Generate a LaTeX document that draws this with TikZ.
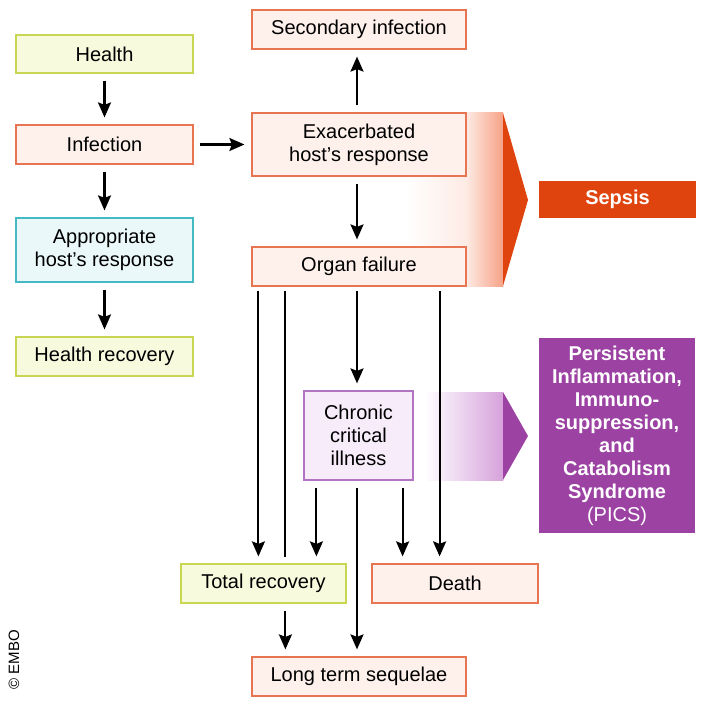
\documentclass[tikz,border=0pt]{standalone}
\usepackage{fontspec}
\setmainfont{Liberation Sans}
\usepackage{tikz}
\usetikzlibrary{arrows.meta}

\definecolor{orgline}{HTML}{E87552}
\definecolor{orgfill}{HTML}{FEF1EC}
\definecolor{grnline}{HTML}{C9D653}
\definecolor{grnfill}{HTML}{F8FADD}
\definecolor{tealline}{HTML}{45B9C4}
\definecolor{tealfill}{HTML}{EBF8F9}
\definecolor{purline}{HTML}{B273C0}
\definecolor{purfill}{HTML}{F7ECF9}
\definecolor{sepsisred}{HTML}{E0440E}
\definecolor{sepsisband}{HTML}{F6A286}
\definecolor{picspurple}{HTML}{9B42A2}
\definecolor{picsband}{HTML}{D6A2DC}

\tikzset{
  box/.style={rectangle,inner sep=0pt,align=center,line width=1.2pt,
    font=\fontsize{20}{23}\selectfont},
  redbox/.style={box,draw=orgline,fill=orgfill},
  greenbox/.style={box,draw=grnline,fill=grnfill},
  tealbox/.style={box,draw=tealline,fill=tealfill},
  purplebox/.style={box,draw=purline,fill=purfill},
  arr/.style={line width=2.1pt,-{Stealth[length=15pt,width=13pt,inset=2.5pt]},
    shorten <=7pt,shorten >=7pt},
  plain/.style={line width=2.1pt,shorten <=4pt,shorten >=6pt}
}

\begin{document}
\begin{tikzpicture}[x=1pt,y=-1pt]
\useasboundingbox (0,0) rectangle (709,706);

% bands behind the boxes
\shade[left color=white,right color=sepsisband!22] (405,113) rectangle (466,286);
\shade[left color=sepsisband!22,right color=sepsisband] (466,113) rectangle (503,286);
\fill[sepsisred] (503,113) -- (528,200) -- (503,286) -- cycle;
\shade[left color=white,right color=picsband] (425,392) rectangle (503,480);
\fill[picspurple] (503,392) -- (528,436) -- (503,480) -- cycle;

% left column
\node[greenbox,minimum width=177pt,minimum height=38pt] (health) at (104.5,54) {Health};
\node[redbox,minimum width=177pt,minimum height=39pt] (infect) at (104.5,144.5) {Infection};
\node[tealbox,minimum width=177pt,minimum height=64pt] (approp) at (104.5,250) {Appropriate\\host’s response};
\node[greenbox,minimum width=177pt,minimum height=39pt] (hrecov) at (104.5,356.5) {Health recovery};

% middle column
\node[redbox,minimum width=214pt,minimum height=39pt] (second) at (359,29.5) {Secondary infection};
\node[redbox,minimum width=214pt,minimum height=63pt] (exacer) at (359,144.5) {Exacerbated\\host’s response};
\node[redbox,minimum width=214pt,minimum height=39pt] (organ) at (359,266.5) {Organ failure};
\node[purplebox,minimum width=109pt,minimum height=89pt] (chronic) at (358.5,435.5) {Chronic\\critical\\illness};
\node[greenbox,minimum width=165pt,minimum height=39pt] (trecov) at (263.5,583.5) {Total recovery};
\node[redbox,minimum width=166pt,minimum height=39pt] (death) at (455,583.5) {Death};
\node[redbox,minimum width=214pt,minimum height=39pt] (sequel) at (359,676.5) {Long term sequelae};

% right column
\node[box,fill=sepsisred,text=white,font=\fontsize{20}{23}\selectfont\bfseries,
  minimum width=157pt,minimum height=37pt] (sepsis) at (617.5,199.5) {Sepsis};
\node[box,fill=picspurple,text=white,minimum width=156pt,minimum height=195pt] (pics) at (617,435.5)
  {\textbf{Persistent}\\\textbf{Inflammation,}\\\textbf{Immuno-}\\\textbf{suppression,}\\\textbf{and}\\\textbf{Catabolism}\\\textbf{Syndrome}\\(PICS)};

\node[rotate=90,font=\fontsize{15}{17}\selectfont] (embo) at (14,660) {© EMBO};

% arrows
\draw[arr] (health) -- (infect);
\draw[arr] (infect) -- (approp);
\draw[arr] (approp) -- (hrecov);
\draw[arr,shorten <=6pt] (infect) -- (exacer);
\draw[arr] ([xshift=-2pt]exacer.north) -- ([xshift=-2pt]second.south);
\draw[arr] ([xshift=-2pt]exacer.south) -- ([xshift=-2pt]organ.south |- organ.north);

\draw[arr,shorten <=4pt] ([xshift=7pt]organ.south west) -- ([xshift=7pt]organ.south west |- trecov.north);
\draw[plain] ([xshift=34pt]organ.south west) -- ([xshift=34pt]organ.south west |- trecov.north);
\draw[arr] ([xshift=34pt]organ.south west |- trecov.south) -- ([xshift=34pt]organ.south west |- sequel.north);
\draw[arr,shorten <=4pt] ([xshift=-2pt]organ.south) -- ([xshift=-2pt]organ.south |- chronic.north);
\draw[arr,shorten <=4pt] ([xshift=-27pt]organ.south east) -- ([xshift=-27pt]organ.south east |- death.north);

\draw[arr] ([xshift=13pt]chronic.south west) -- ([xshift=13pt]chronic.south west |- trecov.north);
\draw[arr] ([xshift=-1.5pt]chronic.south) -- ([xshift=-1.5pt]chronic.south |- sequel.north);
\draw[arr] ([xshift=-11pt]chronic.south east) -- ([xshift=-11pt]chronic.south east |- death.north);
\end{tikzpicture}
\end{document}
